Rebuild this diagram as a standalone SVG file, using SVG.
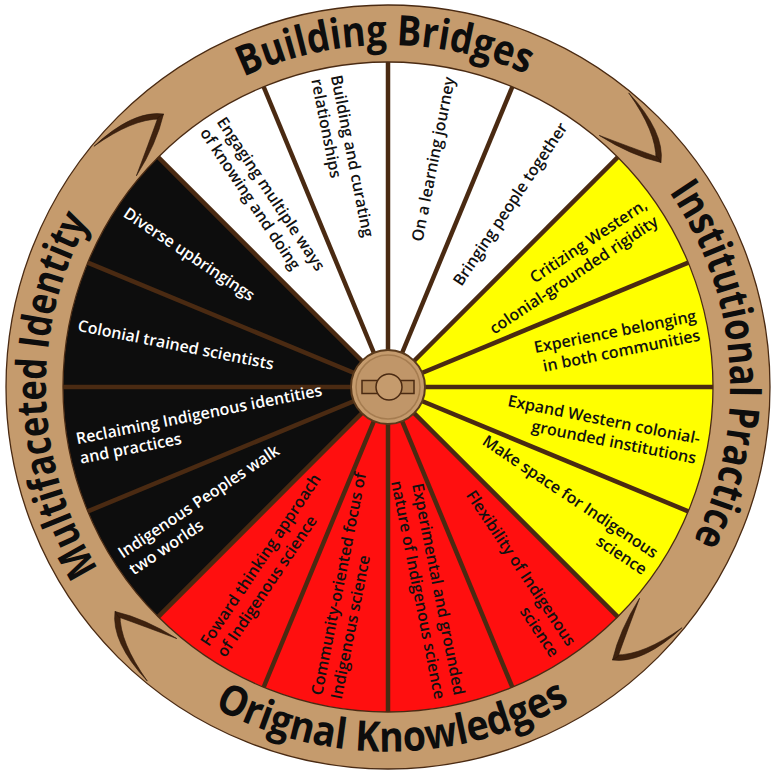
<svg xmlns="http://www.w3.org/2000/svg" width="778" height="777" viewBox="0 0 778 777">
<style>
.lbl{font-family:"Open Sans","Noto Sans","DejaVu Sans",sans-serif;font-size:16px;font-weight:600;fill:#111111}
.wt{fill:#ffffff}
.ttl{font-family:"Open Sans","Noto Sans","DejaVu Sans",sans-serif;font-size:42px;font-weight:700;fill:#0d0d0d}
.spoke{stroke:#4a2a12;stroke-width:4.5}
.hook{fill:#3f220e;stroke:#2a160a;stroke-width:0.6}
</style>
<defs>
<path id="arcTop" d="M46,387 A342,342 0 0 1 730,387" fill="none"/>
<path id="arcRight" d="M364.1,45.8 A342,342 0 0 1 411.9,728.2" fill="none"/>
<path id="arcBottom" d="M22.03,391.47 A366,366 0 0 0 753.97,382.53" fill="none"/>
<path id="arcLeft" d="M397,728.9 A342,342 0 0 1 379,45.1" fill="none"/>
<g id="hookShape">
<path class="hook" d="M240.7,-294.1 Q277,-255 273,-224.5 L268,-227.5 Q268.5,-255 240.7,-294.1 Z"/>
<path class="hook" d="M211.2,-251.6 Q243,-231.5 273,-224.5 L269.5,-230 Q243,-239.5 211.2,-251.6 Z"/>
</g>
</defs>
<rect width="778" height="777" fill="#ffffff"/>
<g id="wheel">
<circle cx="388" cy="387" r="353.5" fill="none" stroke="#c59b6d" stroke-width="57"/>
<circle cx="388" cy="387" r="382" fill="none" stroke="#4a2a12" stroke-width="1.3"/>
<path d="M388,387 L158.19,157.19 A325,325 0 0 1 617.81,157.19 Z" fill="#ffffff"/>
<path d="M388,387 L617.81,157.19 A325,325 0 0 1 617.81,616.81 Z" fill="#ffff00"/>
<path d="M388,387 L617.81,616.81 A325,325 0 0 1 158.19,616.81 Z" fill="#ff0f0f"/>
<path d="M388,387 L158.19,616.81 A325,325 0 0 1 158.19,157.19 Z" fill="#0d0d0d"/>
<circle cx="388" cy="387" r="325" fill="none" stroke="#4a2a12" stroke-width="1.3"/>
<g transform="translate(388,387)">
<use href="#hookShape"/>
<use href="#hookShape" transform="rotate(90)"/>
<use href="#hookShape" transform="rotate(180)"/>
<use href="#hookShape" transform="rotate(270)"/>
</g>
</g>
<g id="connectors" transform="translate(388,387)">
<line class="spoke" x1="0" y1="0" x2="0" y2="-325" transform="rotate(0)"/>
<line class="spoke" x1="0" y1="0" x2="0" y2="-325" transform="rotate(22.5)"/>
<line class="spoke" x1="0" y1="0" x2="0" y2="-325" transform="rotate(45)"/>
<line class="spoke" x1="0" y1="0" x2="0" y2="-325" transform="rotate(67.5)"/>
<line class="spoke" x1="0" y1="0" x2="0" y2="-325" transform="rotate(90)"/>
<line class="spoke" x1="0" y1="0" x2="0" y2="-325" transform="rotate(112.5)"/>
<line class="spoke" x1="0" y1="0" x2="0" y2="-325" transform="rotate(135)"/>
<line class="spoke" x1="0" y1="0" x2="0" y2="-325" transform="rotate(157.5)"/>
<line class="spoke" x1="0" y1="0" x2="0" y2="-325" transform="rotate(180)"/>
<line class="spoke" x1="0" y1="0" x2="0" y2="-325" transform="rotate(202.5)"/>
<line class="spoke" x1="0" y1="0" x2="0" y2="-325" transform="rotate(225)"/>
<line class="spoke" x1="0" y1="0" x2="0" y2="-325" transform="rotate(247.5)"/>
<line class="spoke" x1="0" y1="0" x2="0" y2="-325" transform="rotate(270)"/>
<line class="spoke" x1="0" y1="0" x2="0" y2="-325" transform="rotate(292.5)"/>
<line class="spoke" x1="0" y1="0" x2="0" y2="-325" transform="rotate(315)"/>
<line class="spoke" x1="0" y1="0" x2="0" y2="-325" transform="rotate(337.5)"/>
</g>
<g id="hub">
<circle cx="388" cy="387" r="37" fill="#c59b6d" stroke="#5a3a1c" stroke-width="2"/>
<circle cx="388" cy="387" r="32" fill="#c09669" stroke="#a57c50" stroke-width="1.5"/>
<rect x="362" y="380.5" width="52" height="13" fill="#b08658" stroke="#4a2a12" stroke-width="1.5"/>
<circle cx="389" cy="387" r="13" fill="#c59b6d" stroke="#4a2a12" stroke-width="1.5"/>
</g>
<g id="title-building-bridges"><text class="ttl"><textPath href="#arcTop" startOffset="49.7%" text-anchor="middle" textLength="292" lengthAdjust="spacingAndGlyphs">Building Bridges</textPath></text></g>
<g id="title-institutional-practice"><text class="ttl"><textPath href="#arcRight" startOffset="50%" text-anchor="middle" textLength="367" lengthAdjust="spacingAndGlyphs">Institutional Practice</textPath></text></g>
<g id="title-orignal-knowledges"><text class="ttl"><textPath href="#arcBottom" startOffset="50%" text-anchor="middle" textLength="372" lengthAdjust="spacingAndGlyphs">Orignal Knowledges</textPath></text></g>
<g id="title-multifaceted-identity"><text class="ttl"><textPath href="#arcLeft" startOffset="50%" text-anchor="middle" textLength="365" lengthAdjust="spacingAndGlyphs">Multifaceted Identity</textPath></text></g>
<g id="label-learning-journey" transform="translate(388,387) rotate(-78.75)"><text class="lbl" x="316" y="5.5" text-anchor="end">On a learning journey</text></g>
<g id="label-bringing-people" transform="translate(388,387) rotate(-56.25)"><text class="lbl" x="316" y="5.5" text-anchor="end">Bringing people together</text></g>
<g id="label-critizing" transform="translate(388,387) rotate(-33.75)"><text class="lbl" text-anchor="end"><tspan x="316" y="-4.5">Critizing Western,</tspan><tspan x="316" y="15.5">colonial-grounded rigidity</tspan></text></g>
<g id="label-experience-belonging" transform="translate(388,387) rotate(-11.25)"><text class="lbl" text-anchor="end"><tspan x="316" y="-4.5">Experience belonging</tspan><tspan x="316" y="15.5">in both communities</tspan></text></g>
<g id="label-expand-western" transform="translate(388,387) rotate(11.25)"><text class="lbl" text-anchor="end"><tspan x="316" y="-4.5">Expand Western colonial-</tspan><tspan x="316" y="15.5">grounded institutions</tspan></text></g>
<g id="label-make-space" transform="translate(388,387) rotate(33.75)"><text class="lbl" text-anchor="end"><tspan x="316" y="-4.5">Make space for Indigenous</tspan><tspan x="316" y="15.5">science</tspan></text></g>
<g id="label-flexibility" transform="translate(388,387) rotate(56.25)"><text class="lbl" text-anchor="end"><tspan x="316" y="-4.5">Flexibility of Indigenous</tspan><tspan x="316" y="15.5">science</tspan></text></g>
<g id="label-experimental" transform="translate(388,387) rotate(78.75)"><text class="lbl" text-anchor="end"><tspan x="316" y="-4.5">Experimental and grounded</tspan><tspan x="316" y="15.5">nature of Indigenous science</tspan></text></g>
<g id="label-community-oriented" transform="translate(388,387) rotate(-78.75)"><text class="lbl"><tspan x="-316" y="-4.5">Community-oriented focus of</tspan><tspan x="-316" y="15.5">Indigenous science</tspan></text></g>
<g id="label-foward-thinking" transform="translate(388,387) rotate(-56.25)"><text class="lbl"><tspan x="-316" y="-4.5">Foward thinking approach</tspan><tspan x="-316" y="15.5">of Indigenous science</tspan></text></g>
<g id="label-two-worlds" transform="translate(388,387) rotate(-33.75)"><text class="lbl wt"><tspan x="-316" y="-4.5">Indigenous Peoples walk</tspan><tspan x="-316" y="15.5">two worlds</tspan></text></g>
<g id="label-reclaiming" transform="translate(388,387) rotate(-11.25)"><text class="lbl wt"><tspan x="-316" y="-4.5">Reclaiming Indigenous identities</tspan><tspan x="-316" y="15.5">and practices</tspan></text></g>
<g id="label-colonial-trained" transform="translate(388,387) rotate(11.25)"><text class="lbl wt" x="-316" y="5.5">Colonial trained scientists</text></g>
<g id="label-diverse-upbringings" transform="translate(388,387) rotate(33.75)"><text class="lbl wt" x="-316" y="5.5">Diverse upbringings</text></g>
<g id="label-engaging" transform="translate(388,387) rotate(56.25)"><text class="lbl"><tspan x="-316" y="-4.5">Engaging multiple ways</tspan><tspan x="-316" y="15.5">of knowing and doing</tspan></text></g>
<g id="label-building-curating" transform="translate(388,387) rotate(78.75)"><text class="lbl"><tspan x="-316" y="-4.5">Building and curating</tspan><tspan x="-316" y="15.5">relationships</tspan></text></g>
</svg>
